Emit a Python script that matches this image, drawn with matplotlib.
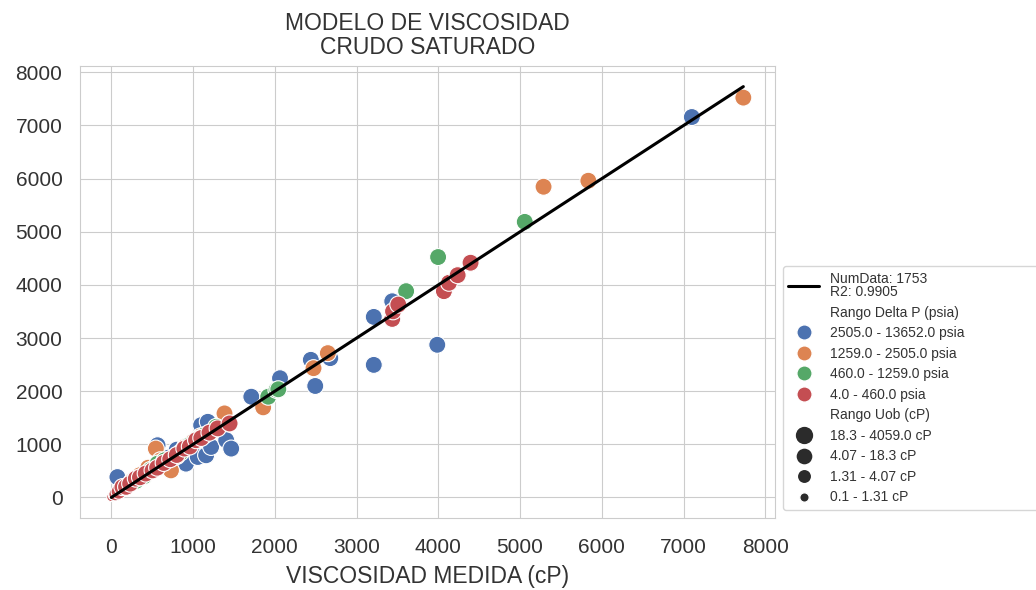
import matplotlib
matplotlib.use("Agg")
import matplotlib.pyplot as plt
from matplotlib.lines import Line2D
import seaborn as sns

sns.set_style("whitegrid")
plt.rcParams['font.family'] = ['Liberation Sans', 'DejaVu Sans']

# ---- data ----
delta_p_labels = ["2505.0 - 13652.0 psia", "1259.0 - 2505.0 psia",
                  "460.0 - 1259.0 psia", "4.0 - 460.0 psia"]
uob_labels = ["18.3 - 4059.0 cP", "4.07 - 18.3 cP", "1.31 - 4.07 cP", "0.1 - 1.31 cP"]
num_data = 1753
r2 = 0.9905

# blue: 2505.0 - 13652.0 psia
blue_x = [74, 150, 300, 450, 565, 700, 800, 913, 1057, 1098, 1159, 1180, 1220, 1405,
          1466, 1712, 2063, 2440, 2494, 2678, 3210, 3210, 3436, 3987, 7101]
blue_y = [384, 200, 350, 500, 983, 750, 900, 637, 762, 1361, 794, 1424, 951, 1078,
          920, 1896, 2244, 2590, 2098, 2622, 3398, 2495, 3692, 2873, 7159]
blue_uob = [0, 2, 1, 0, 0, 0, 0, 0, 0, 0, 0, 0, 0, 0,
            0, 0, 0, 0, 0, 0, 0, 0, 0, 0, 0]

# orange: 1259.0 - 2505.0 psia
orange_x = [20, 80, 150, 250, 350, 450, 544, 600, 729, 800, 900, 1000, 1090, 1384,
            1857, 2473, 2648, 5287, 5835, 7731]
orange_y = [20, 90, 180, 300, 420, 560, 920, 700, 510, 780, 950, 1050, 1150, 1582,
            1696, 2433, 2716, 5847, 5960, 7524]
orange_uob = [3, 2, 1, 0, 0, 0, 0, 0, 0, 0, 0, 0, 0, 0,
              0, 0, 0, 0, 0, 0]

# green: 460.0 - 1259.0 psia
green_x = [30, 100, 200, 300, 400, 480, 565, 650, 770, 850, 950, 1050, 1139, 1282,
           1919, 2020, 2042, 3606, 3997, 5057]
green_y = [40, 120, 220, 310, 400, 520, 637, 700, 762, 850, 980, 1100, 1172, 1329,
           1896, 2023, 2036, 3882, 4524, 5186]
green_uob = [3, 2, 1, 0, 0, 0, 0, 0, 0, 0, 0, 0, 0, 0,
             0, 0, 0, 0, 0, 0]

# red: 4.0 - 460.0 psia
red_x = [0, 20, 50, 90, 135, 180, 230, 299, 350, 420, 504, 560, 640, 720, 800, 893,
         960, 1036, 1100, 1200, 1300, 1446, 3436, 3446, 3510, 4068, 4130, 4236, 4394]
red_y = [10, 38, 60, 110, 195, 200, 260, 354, 380, 450, 510, 560, 650, 720, 800, 920,
         960, 1078, 1120, 1220, 1300, 1393, 3360, 3503, 3630, 3882, 4040, 4183, 4417]
red_uob = [3, 3, 2, 1, 0, 0, 0, 0, 0, 0, 0, 0, 0, 0, 0, 0,
           0, 0, 0, 0, 0, 0, 0, 0, 0, 0, 0, 0, 0]

colors = ["#4C72B0", "#DD8452", "#55A868", "#C44E52"]
size_of = [150, 120, 90, 45]

groups = [(blue_x, blue_y, blue_uob), (orange_x, orange_y, orange_uob),
          (green_x, green_y, green_uob), (red_x, red_y, red_uob)]

fig = plt.figure(figsize=(10.36, 5.9), dpi=100)
ax = fig.add_axes([0.077, 0.122, 0.671, 0.766])

for (gx, gy, gu), c in zip(groups, colors):
    ax.scatter(gx, gy, s=[size_of[u] for u in gu], color=c,
               edgecolor="white", linewidth=0.8, zorder=3)

lim = max(max(g[0] + g[1]) for g in groups)
ax.plot([0, lim], [0, lim], color="k", lw=2.2, zorder=4)

ax.set_xticks(range(0, 8001, 1000))
ax.set_yticks(range(0, 8001, 1000))
ax.tick_params(labelsize=15, colors="#333333")
ax.tick_params(axis="x", pad=11)
ax.tick_params(axis="y", pad=9)
ax.set_title("MODELO DE VISCOSIDAD\nCRUDO SATURADO", fontsize=16.5, color="#333333",
             pad=9, linespacing=1.05)
ax.set_xlabel("VISCOSIDAD MEDIDA (cP)", fontsize=16.5, color="#333333", labelpad=6)

# legend, seaborn-like with subtitles
blank = Line2D([], [], linestyle="", marker="")
handles = [Line2D([], [], color="k", lw=2.2), blank]
labels = [f"NumData: {num_data}\nR2: {r2}", "Rango Delta P (psia)"]
for c, lab in zip(colors, delta_p_labels):
    handles.append(Line2D([], [], linestyle="", marker="o", color=c,
                          markeredgecolor="white", markersize=11))
    labels.append(lab)
handles.append(blank)
labels.append("Rango Uob (cP)")
for ms, lab in zip([13.5, 12.3, 10.3, 6.8], uob_labels):
    handles.append(Line2D([], [], linestyle="", marker="o", color="#2b2b2b",
                          markeredgecolor="white", markersize=ms))
    labels.append(lab)

leg = ax.legend(handles, labels, loc="lower left",
                bbox_to_anchor=(1.0115, 0.0177, 0.42, 0.5), mode="expand",
                fontsize=10, handlelength=2.2, labelspacing=0.47,
                frameon=True, borderaxespad=0)
for t in leg.get_texts():
    t.set_color("#333333")
    t.set_linespacing(0.95)

fig.savefig("out.png", dpi=100)
